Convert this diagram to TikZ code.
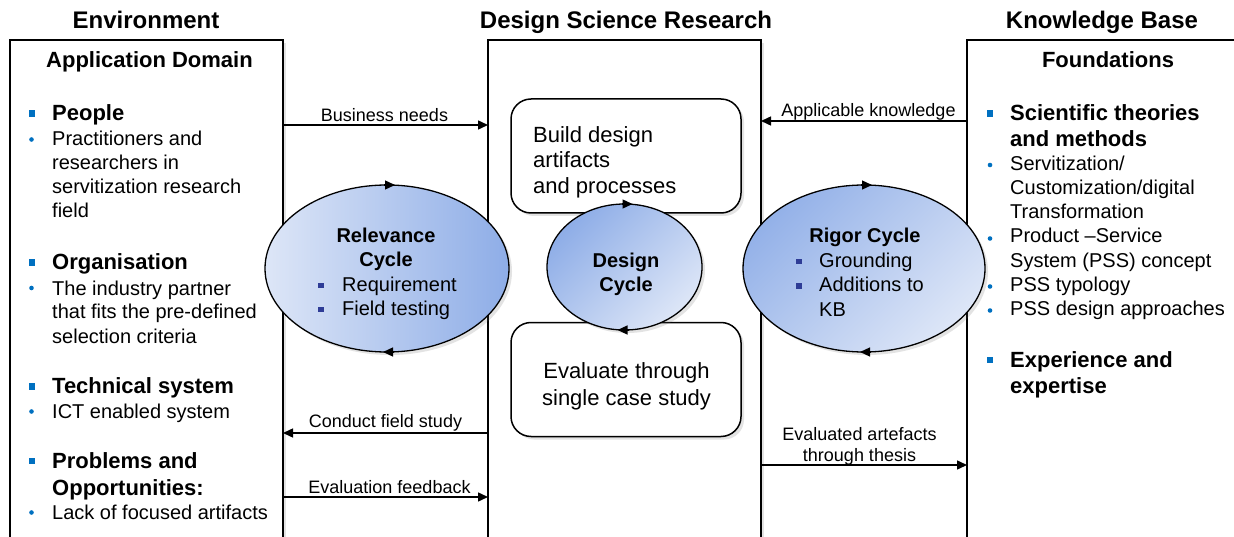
\documentclass[tikz,border=0pt]{standalone}
\usepackage{fontspec}
\setmainfont{Liberation Sans}
\usetikzlibrary{arrows.meta,shapes.geometric,shadows}
\definecolor{bulletblue}{HTML}{0070C0}
\definecolor{navyblue}{HTML}{2E3C96}
\definecolor{elldark}{HTML}{8EADE7}
\definecolor{elllight}{HTML}{DDE6F7}
\begin{document}
\begin{tikzpicture}[x=1pt,y=-1pt,
  softshadow/.style={drop shadow={shadow xshift=3pt,shadow yshift=-3pt,opacity=0.18,fill=black!60}},
  frame/.style={draw,line width=1.5pt,minimum height=560pt,inner sep=0pt,outer sep=0pt,anchor=north west,fill=white,softshadow},
  rbox/.style={draw,line width=1.5pt,rounded corners=20pt,minimum width=230pt,minimum height=114pt,inner sep=0pt,outer sep=0pt,fill=white,softshadow},
  cycleell/.style={ellipse,draw,line width=1.3pt,inner sep=0pt,outer sep=0pt,softshadow},
  titletxt/.style={font=\fontsize{24}{28}\selectfont\bfseries,inner sep=0pt},
  headtxt/.style={font=\fontsize{22}{26}\selectfont\bfseries,inner sep=0pt},
  bodytxt/.style={font=\fontsize{20}{24}\selectfont,inner sep=0pt},
  lbltxt/.style={font=\fontsize{18}{21}\selectfont,inner sep=0pt},
  boxtxt/.style={font=\fontsize{22}{26}\selectfont,inner sep=0pt},
  elltxt/.style={font=\fontsize{20}{24}\selectfont,inner sep=0pt},
  ellhead/.style={font=\fontsize{20}{24}\selectfont\bfseries,inner sep=0pt},
  sqbullet/.style={fill=bulletblue,minimum size=6.5pt,inner sep=0pt},
  dotbullet/.style={circle,fill=bulletblue,minimum size=4.6pt,inner sep=0pt},
  navybullet/.style={fill=navyblue,minimum size=5.5pt,inner sep=0pt},
  conn/.style={line width=1.5pt,-{Triangle[length=10pt,width=9pt]}},
  cyctip/.style={line width=1.3pt,-{Triangle[length=10pt,width=9pt]}}
]
\useasboundingbox (0,0) rectangle (1234,537);

% ---- frames
\node[frame,minimum width=273pt] (env) at (10,40) {};
\node[frame,minimum width=273pt] (dsr) at (488,40) {};
\node[frame,minimum width=300pt] (kb) at (967,40) {};

% ---- titles
\node[titletxt,anchor=base] (tEnv) at (146,29) {Environment};
\node[titletxt,anchor=base] (tDsr) at (626,29) {Design Science Research};
\node[titletxt,anchor=base] (tKb) at (1102,29) {Knowledge Base};
\node[headtxt,anchor=base] (tApp) at (149.5,68) {Application Domain};
\node[headtxt,anchor=base] (tFou) at (1108,68) {Foundations};

% ---- left list
\node[sqbullet] (sq1) at (32,113.5) {};
\node[headtxt,anchor=base west] (l1) at (52,121) {People};
\node[dotbullet] (d1) at (31.5,139.5) {};
\node[bodytxt,anchor=base west] (l2) at (52,146) {Practitioners and};
\node[bodytxt,anchor=base west] (l3) at (52,170) {researchers in};
\node[bodytxt,anchor=base west] (l4) at (52,194) {servitization research};
\node[bodytxt,anchor=base west] (l5) at (52,218) {field};
\node[sqbullet] (sq2) at (32,262.5) {};
\node[headtxt,anchor=base west] (l6) at (52,270) {Organisation};
\node[dotbullet] (d2) at (31.5,288) {};
\node[bodytxt,anchor=base west] (l7) at (52,295) {The industry partner};
\node[bodytxt,anchor=base west] (l8) at (52,319) {that fits the pre-defined};
\node[bodytxt,anchor=base west] (l9) at (52,343) {selection criteria};
\node[sqbullet] (sq3) at (32,386.5) {};
\node[headtxt,anchor=base west] (l10) at (52,393.5) {Technical system};
\node[dotbullet] (d3) at (31.5,411.5) {};
\node[bodytxt,anchor=base west] (l11) at (52,418) {ICT enabled system};
\node[sqbullet] (sq4) at (32,461) {};
\node[headtxt,anchor=base west] (l12) at (52,468) {Problems and};
\node[headtxt,anchor=base west] (l13) at (52,495) {Opportunities:};
\node[dotbullet] (d4) at (31.5,512.5) {};
\node[bodytxt,anchor=base west] (l14) at (52,519) {Lack of focused artifacts};

% ---- right list
\node[sqbullet] (sq5) at (990,113.5) {};
\node[headtxt,anchor=base west] (r1) at (1010,121) {Scientific theories};
\node[headtxt,anchor=base west] (r2) at (1010,147) {and methods};
\node[dotbullet] (d5) at (990,165) {};
\node[bodytxt,anchor=base west] (r3) at (1010,171) {Servitization/};
\node[bodytxt,anchor=base west] (r4) at (1010,195) {Customization/digital};
\node[bodytxt,anchor=base west] (r5) at (1010,219) {Transformation};
\node[dotbullet] (d6) at (990,238.5) {};
\node[bodytxt,anchor=base west] (r6) at (1010,243) {Product --Service};
\node[bodytxt,anchor=base west] (r7) at (1010,268) {System (PSS) concept};
\node[dotbullet] (d7) at (990,286.5) {};
\node[bodytxt,anchor=base west] (r8) at (1010,292) {PSS typology};
\node[dotbullet] (d8) at (990,310.5) {};
\node[bodytxt,anchor=base west] (r9) at (1010,316) {PSS design approaches};
\node[sqbullet] (sq6) at (990,360) {};
\node[headtxt,anchor=base west] (r10) at (1010,367) {Experience and};
\node[headtxt,anchor=base west] (r11) at (1010,393) {expertise};

% ---- rounded boxes
\node[rbox] (build) at (626,156) {};
\node[rbox] (eval) at (626,379.5) {};
\node[boxtxt,anchor=base west] (b1) at (533,142.5) {Build design};
\node[boxtxt,anchor=base west] (b2) at (533,168) {artifacts};
\node[boxtxt,anchor=base west] (b3) at (533,194) {and processes};
\node[boxtxt,anchor=base] (e1) at (626.5,378) {Evaluate through};
\node[boxtxt,anchor=base] (e2) at (626.5,405) {single case study};

% ---- connectors
\draw[conn] (env.east |- 0,125) -- (dsr.west |- 0,125);
\node[lbltxt,anchor=base] (lbBus) at (384.5,122) {Business needs};
\draw[conn] (kb.west |- 0,121) -- (dsr.east |- 0,121);
\node[lbltxt,anchor=base] (lbApp) at (868.5,117) {Applicable knowledge};
\draw[conn] (dsr.west |- 0,433) -- (env.east |- 0,433);
\node[lbltxt,anchor=base] (lbCon) at (385.5,427) {Conduct field study};
\draw[conn] (env.east |- 0,497) -- (dsr.west |- 0,497);
\node[lbltxt,anchor=base] (lbEva) at (389.5,493) {Evaluation feedback};
\draw[conn] (dsr.east |- 0,465) -- (kb.west |- 0,465);
\node[lbltxt,anchor=base] (lbEa1) at (859.5,440) {Evaluated artefacts};
\node[lbltxt,anchor=base] (lbEa2) at (859.5,461) {through thesis};

% ---- cycles
\node[cycleell,minimum width=244pt,minimum height=167pt,left color=elllight,right color=elldark] (rel) at (387,268.5) {};
\node[cycleell,minimum width=155pt,minimum height=126pt,top color=elldark,bottom color=elllight,shading angle=45] (des) at (624.5,267) {};
\node[cycleell,minimum width=242pt,minimum height=167pt,top color=elldark!95,bottom color=elllight,shading angle=45] (rig) at (864,268.5) {};

\draw[cyctip] ([xshift=-3pt]rel.north) -- ([xshift=8pt]rel.north);
\draw[cyctip] ([xshift=7pt]rel.south) -- ([xshift=-4pt]rel.south);
\draw[cyctip] ([xshift=-3pt]des.north) -- ([xshift=8pt]des.north);
\draw[cyctip] ([xshift=4pt]des.south) -- ([xshift=-7pt]des.south);
\draw[cyctip] ([xshift=-3pt]rig.north) -- ([xshift=8pt]rig.north);
\draw[cyctip] ([xshift=7pt]rig.south) -- ([xshift=-4pt]rig.south);

\node[ellhead,anchor=base] (relT1) at (386,243) {Relevance};
\node[ellhead,anchor=base] (relT2) at (386,267) {Cycle};
\node[navybullet] (nb1) at (321,285.5) {};
\node[elltxt,anchor=base west] (relI1) at (342,291.5) {Requirement};
\node[navybullet] (nb2) at (321,309.5) {};
\node[elltxt,anchor=base west] (relI2) at (342,316) {Field testing};

\node[ellhead,anchor=base] (desT1) at (626,268) {Design};
\node[ellhead,anchor=base] (desT2) at (626,291) {Cycle};

\node[ellhead,anchor=base] (rigT1) at (865,243) {Rigor Cycle};
\node[navybullet] (nb3) at (799,261.5) {};
\node[elltxt,anchor=base west] (rigI1) at (819,268) {Grounding};
\node[navybullet] (nb4) at (799,286) {};
\node[elltxt,anchor=base west] (rigI2) at (819,292) {Additions to};
\node[elltxt,anchor=base west] (rigI3) at (819,316.5) {KB};
\end{tikzpicture}
\end{document}
